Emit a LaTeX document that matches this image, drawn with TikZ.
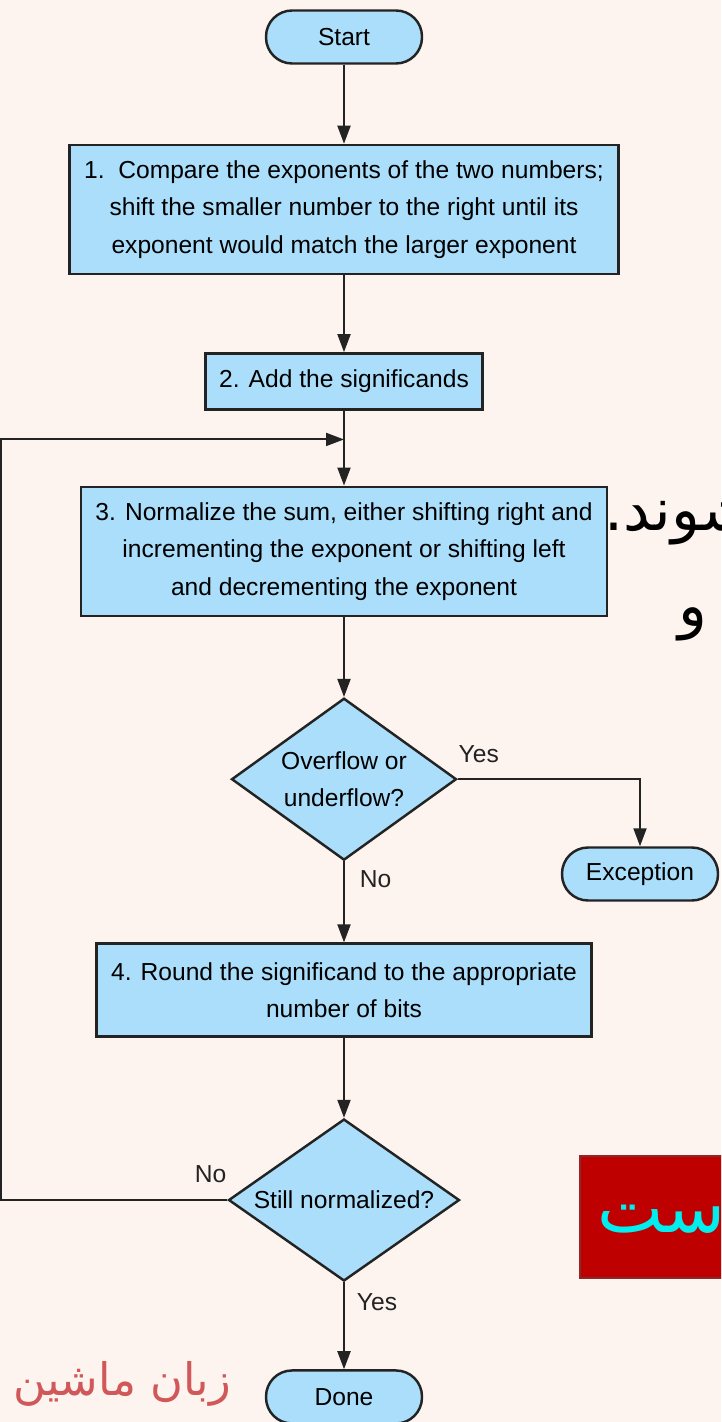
\documentclass[tikz,border=0pt]{standalone}
\usepackage{fontspec}
\setmainfont{Liberation Sans}
\newfontfamily\farsi[Script=Arabic]{DejaVu Sans}
\TeXXeTstate=1
\usetikzlibrary{arrows.meta,positioning,shapes.geometric,calc}
\definecolor{pagebg}{RGB}{254,244,239}
\definecolor{boxblue}{RGB}{170,222,250}
\definecolor{ink}{RGB}{35,35,35}
\definecolor{stampred}{RGB}{190,0,0}
\definecolor{stampedge}{RGB}{140,40,40}
\definecolor{stampcyan}{RGB}{0,238,238}
\definecolor{notered}{RGB}{208,88,88}

\begin{document}
\begin{tikzpicture}[x=0.02cm,y=-0.02cm,node distance=1.58cm,
      every node/.style={font=\fontsize{14}{21.3}\selectfont},
      box/.style={draw=ink,line width=1.4pt,fill=boxblue,align=center},
      term/.style={box,rounded corners=0.52cm,minimum width=3.12cm,minimum height=1.06cm},
      dec/.style={box,diamond,aspect=1.4,inner sep=0pt,minimum height=3.24cm},
      arr/.style={-{Triangle[length=0.36cm,width=0.26cm]},line width=1.1pt,ink},
      lbl/.style={inner sep=0pt},
      fa/.style={inner sep=0pt,font=\farsi\fontsize{34}{40}\selectfont}]
    \clip (0,0) rectangle (721,1422);
    \fill[pagebg] (0,0) rectangle (721,1422);
    \node[fa,anchor=base west] (shavand) at (604,530) {\beginR شوند.\endR};
    \node[fa,anchor=base east] (va) at (708,626) {\beginR و\endR};
    \node[draw=stampedge,fill=stampred,line width=1pt,inner sep=0pt,anchor=north west,
      minimum width=3cm,minimum height=2.44cm] (redbox) at (579,1155) {};
    \node[fa,stampcyan,anchor=base west,font=\farsi\fontsize{40}{44}\selectfont] (redword)
      at (597,1232) {\beginR است\endR};
    \node[fa,notered,anchor=base west,font=\farsi\fontsize{25.5}{30}\selectfont] (lang)
      at (13,1395) {\beginR زبان ماشین\endR};
    \node[term] (start) at (344,37) {Start};
    \node[box,below=of start,minimum width=10.98cm,minimum height=2.58cm] (cmp)
      {1.\ \ Compare the exponents of the two numbers;\\shift the smaller number to the right until its\\exponent would match the larger exponent};
    \node[box,below=1.54cm of cmp,minimum width=5.54cm,minimum height=1.12cm] (add)
      {2. Add the significands};
    \node[box,below=1.50cm of add,minimum width=10.52cm,minimum height=2.58cm] (norm)
      {3. Normalize the sum, either shifting right and\\incrementing the exponent or shifting left\\and decrementing the exponent};
    \node[dec,below=1.60cm of norm,minimum width=4.5cm] (ovf) {Overflow or\\underflow?};
    \node[term] (exc) at (640,874) {Exception};
    \node[box,below=1.62cm of ovf,minimum width=9.9cm,minimum height=1.86cm] (rnd)
      {4. Round the significand to the appropriate\\number of bits};
    \node[dec,below=1.60cm of rnd,minimum width=4.62cm] (still) {Still normalized?};
    \node[term,below=1.74cm of still] (done) {Done};
    \path (add.south) -- coordinate[pos=0.385] (join) (norm.north);
    \draw[arr] (start) -- (cmp);
    \draw[arr] (cmp) -- (add);
    \draw[arr] (add) -- (norm);
    \draw[arr] (norm) -- (ovf);
    \draw[arr] (ovf.east) -| node[lbl,pos=0,anchor=south west,yshift=0.3cm] (yes1) {Yes} (exc.north);
    \draw[arr] (ovf) -- node[lbl,pos=0,anchor=north west,xshift=0.3cm,yshift=-0.16cm] (no1) {No} (rnd);
    \draw[arr] (rnd) -- (still);
    \draw[arr] (still) -- node[lbl,pos=0,anchor=north west,xshift=0.24cm,yshift=-0.2cm] (yes2) {Yes} (done);
    \draw[arr] (still.west) -- node[lbl,pos=0,anchor=south east,yshift=0.32cm] (no2) {No} ++(-226,0) |- (join);
  \end{tikzpicture}
\end{document}
